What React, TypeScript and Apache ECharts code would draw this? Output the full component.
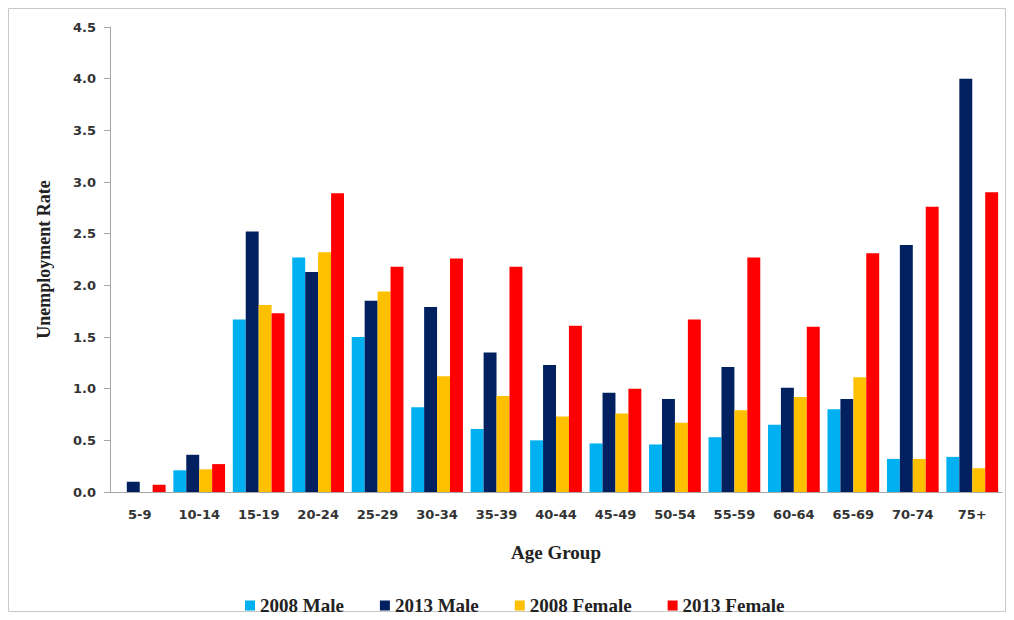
import React, { useEffect, useRef } from "react";
import * as echarts from "echarts";

const categories = ["5-9", "10-14", "15-19", "20-24", "25-29", "30-34", "35-39", "40-44", "45-49", "50-54", "55-59", "60-64", "65-69", "70-74", "75+"];
const male2008 = [0, 0.21, 1.67, 2.27, 1.5, 0.82, 0.61, 0.5, 0.47, 0.46, 0.53, 0.65, 0.8, 0.32, 0.34];
const male2013 = [0.1, 0.36, 2.52, 2.13, 1.85, 1.79, 1.35, 1.23, 0.96, 0.9, 1.21, 1.01, 0.9, 2.39, 4.0];
const female2008 = [0, 0.22, 1.81, 2.32, 1.94, 1.12, 0.93, 0.73, 0.76, 0.67, 0.79, 0.92, 1.11, 0.32, 0.23];
const female2013 = [0.07, 0.27, 1.73, 2.89, 2.18, 2.26, 2.18, 1.61, 1.0, 1.67, 2.27, 1.6, 2.31, 2.76, 2.9];
const seriesNames = ["2008 Male", "2013 Male", "2008 Female", "2013 Female"];
const colors = ["#00B0F0", "#002060", "#FFC000", "#FF0000"];

export default function App() {
  const ref = useRef<HTMLDivElement>(null);
  useEffect(() => {
    if (!ref.current) return;
    const chart = echarts.init(ref.current, undefined, { renderer: "svg" });
    const data = [male2008, male2013, female2008, female2013];
    chart.setOption({
      animation: false,
      backgroundColor: "#ffffff",
      graphic: [
        {
          type: "rect",
          shape: { x: 8.5, y: 8.5, width: 997, height: 603 },
          style: { fill: "none", stroke: "#c8c8c8", lineWidth: 1 },
          silent: true,
        },
      ],
      legend: {
        data: seriesNames,
        top: 591,
        left: 240,
        itemWidth: 10,
        itemHeight: 10,
        itemGap: 36,
        icon: "rect",
        textStyle: {
          fontFamily: "Liberation Serif",
          fontWeight: "bold",
          fontSize: 19,
          color: "#222",
        },
      },
      grid: { left: 110, right: 12, top: 27, bottom: 128 },
      xAxis: {
        type: "category",
        data: categories,
        name: "Age Group",
        nameLocation: "middle",
        nameGap: 51,
        nameTextStyle: {
          fontFamily: "Liberation Serif",
          fontWeight: "bold",
          fontSize: 19,
          color: "#222",
        },
        axisLine: { lineStyle: { color: "#a6a6a6", width: 1 } },
        axisTick: { show: false },
        axisLabel: {
          fontFamily: "DejaVu Sans",
          fontWeight: "bold",
          fontSize: 13,
          color: "#333",
          margin: 16,
          interval: 0,
        },
      },
      yAxis: {
        type: "value",
        min: 0,
        max: 4.5,
        interval: 0.5,
        name: "Unemployment Rate",
        nameLocation: "middle",
        nameGap: 57,
        nameTextStyle: {
          fontFamily: "Liberation Serif",
          fontWeight: "bold",
          fontSize: 18,
          color: "#222",
        },
        axisLine: { show: true, lineStyle: { color: "#a6a6a6", width: 1 } },
        axisTick: { show: true, length: 6, inside: false, lineStyle: { color: "#a6a6a6" } },
        splitLine: { show: false },
        axisLabel: {
          fontFamily: "DejaVu Sans",
          fontWeight: "bold",
          fontSize: 13,
          color: "#333",
          margin: 14,
          formatter: (v: number) => v.toFixed(1),
        },
      },
      series: seriesNames.map((name, i) => ({
        name,
        type: "bar",
        data: data[i],
        barGap: "0%",
        barCategoryGap: "13%",
        itemStyle: { color: colors[i] },
      })),
    });
    return () => chart.dispose();
  }, []);
  return (
    <div
      ref={ref}
      style={{ position: "fixed", left: 0, top: 0, width: 1014, height: 620 }}
    />
  );
}
